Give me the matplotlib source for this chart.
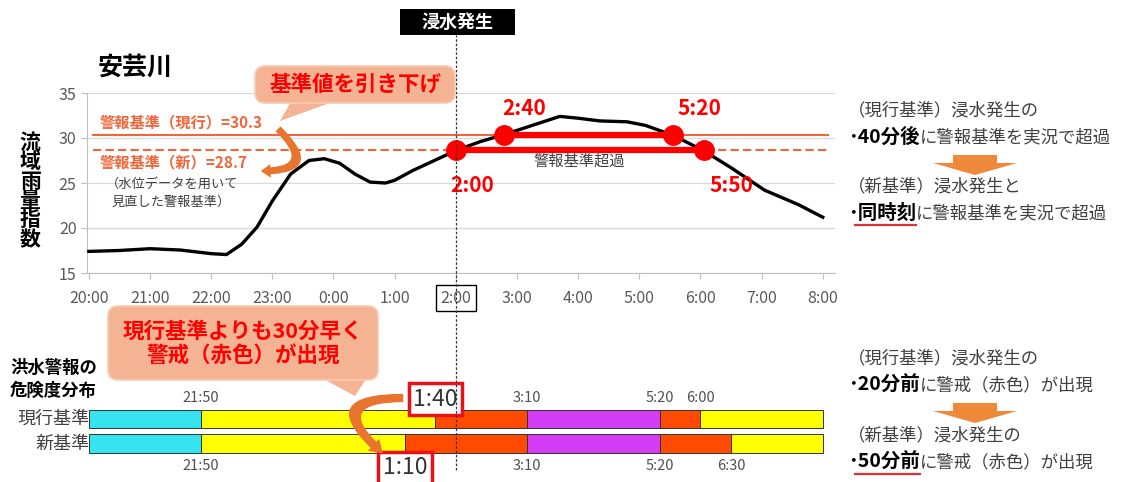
import matplotlib
import matplotlib.pyplot as plt
from matplotlib.lines import Line2D
from matplotlib.patches import FancyArrowPatch, FancyBboxPatch, Polygon, Rectangle
from matplotlib.transforms import IdentityTransform

matplotlib.use("Agg")
plt.rcParams["font.family"] = ["Noto Sans CJK JP", "DejaVu Sans"]

W, H = 1126, 482

# 流域雨量指数 (hours after 20:00)
hours = [0.0, 0.5, 1.0, 1.5, 2.0, 2.25, 2.5, 2.75, 3.0, 3.3, 3.6, 3.85, 4.1,
         4.35, 4.6, 4.85, 5.0, 5.3, 5.65, 6.0, 6.4, 6.8, 7.25, 7.7, 8.0,
         8.35, 8.8, 9.1, 9.55, 10.05, 10.5, 11.05, 11.6, 12.0]
index_vals = [17.4, 17.5, 17.7, 17.55, 17.15, 17.05, 18.2, 20.1, 23.0, 26.0,
              27.5, 27.7, 27.2, 26.0, 25.1, 25.0, 25.3, 26.4, 27.5, 28.6,
              29.6, 30.4, 31.4, 32.4, 32.2, 31.9, 31.8, 31.4, 30.3, 28.6,
              26.7, 24.2, 22.6, 21.2]
thr_current = 30.3
thr_new = 28.7
tick_labels = ["20:00", "21:00", "22:00", "23:00", "0:00", "1:00", "2:00",
               "3:00", "4:00", "5:00", "6:00", "7:00", "8:00"]
flood_hour = 6.0

cross_labels = ["2:00", "2:40", "5:20", "5:50"]
cross_hours = [6.0, 6.78, 9.55, 10.05]
cross_vals = [thr_new, thr_current, thr_current, thr_new]

# 危険度分布
rows = ["現行基準", "新基準"]
cur_bounds = ["20:00", "21:50", "1:40", "3:10", "5:20", "6:00", "8:00"]
new_bounds = ["20:00", "21:50", "1:10", "3:10", "5:20", "6:30", "8:00"]
level_colors = ["#36E4F0", "#FFFF00", "#FF4A00", "#D43DF5", "#FF4A00", "#FFFF00"]


def to_hours(s):
    h, m = s.split(":")
    return (int(h) + int(m) / 60 - 20) % 24


def fx(x):
    return x / W


def fy(y):
    return 1 - y / H


RED = "#FF0000"
ORANGE = "#F0663A"
GRAY = "#404040"

fig = plt.figure(figsize=(11.26, 4.82), dpi=100)
ax = fig.add_axes([fx(87), fy(273), 748 / W, 180 / H])
ax_bar = fig.add_axes([fx(87), fy(455.75), 748 / W, 49 / H])
ax.set_zorder(3)
ax.patch.set_alpha(0)

# ---- upper chart
ax.plot(hours, index_vals, color="black", lw=2.4, zorder=4)
ax.axhline(thr_current, xmin=0.008, xmax=0.99, color=ORANGE, lw=1.5, zorder=2)
ax.axhline(thr_new, xmin=0.008, xmax=0.99, color=ORANGE, lw=1.5,
           dashes=(4, 2), zorder=2)
ax.plot([cross_hours[1], cross_hours[2]], [thr_current] * 2, color=RED,
        lw=4.5, solid_capstyle="butt", zorder=5)
ax.plot([cross_hours[0], cross_hours[3]], [thr_new] * 2, color=RED,
        lw=4.5, solid_capstyle="butt", zorder=5)
ax.plot(cross_hours, cross_vals, "o", color=RED, ms=14, zorder=6)
offsets = [(16, -36), (21, 27), (26, 27), (28, -36)]
for lab, h, v, off in zip(cross_labels, cross_hours, cross_vals, offsets):
    ax.annotate(lab, (h, v), xytext=off, textcoords="offset pixels",
                ha="center", va="center", color=RED, fontsize=15,
                fontweight="bold", zorder=7)
ax.text((cross_hours[0] + cross_hours[3]) / 2, 27.4, "警報基準超過",
        ha="center", va="center", fontsize=11, color=GRAY)

ax.set_xlim(-0.03, 12.2)
ax.set_ylim(15, 35)
ax.set_xticks(range(len(tick_labels)))
ax.set_xticklabels(tick_labels)
ax.set_yticks([15, 20, 25, 30, 35])
ax.tick_params(labelsize=11.5, labelcolor="#595959", color="#BFBFBF", length=4)
ax.tick_params(axis="x", pad=8)
ax.grid(axis="y", color="#D9D9D9", lw=0.9)
ax.set_axisbelow(True)
for side in ["top", "right"]:
    ax.spines[side].set_visible(False)
for side in ["left", "bottom"]:
    ax.spines[side].set_color("#BFBFBF")
ax.get_xticklabels()[tick_labels.index("2:00")].set_bbox(
    dict(boxstyle="square,pad=0.3", fc="none", ec="black", lw=1))

# flood time line
ax.axvline(flood_hour, ymin=-1.094, ymax=1.32, color="#333333", lw=0.9,
           dashes=(2, 1.5), clip_on=False, zorder=8)

# ---- lower bars
ax_bar.set_xlim(-0.03, 12.2)
ax_bar.set_ylim(-0.5, 1.5)
ax_bar.axis("off")
for row_y, bounds in [(1, cur_bounds), (0, new_bounds)]:
    b = [to_hours(s) if i < len(bounds) - 1 else 12.0
         for i, s in enumerate(bounds)]
    for i, c in enumerate(level_colors):
        ax_bar.barh(row_y, b[i + 1] - b[i], left=b[i], height=0.74, color=c,
                    edgecolor="#333333", lw=0.7)
    lab_y = 1.84 if row_y == 1 else -0.92
    for i in range(1, len(bounds) - 1):
        if i == 2:
            ax_bar.text(b[i], 1.8 if row_y == 1 else -1.0, bounds[i],
                        ha="center", va="center", fontsize=16.5, color="#333333",
                        bbox=dict(boxstyle="square,pad=0.2", fc="white",
                                  ec="#E8101A", lw=2.5), clip_on=False,
                        zorder=5)
        else:
            ax_bar.text(b[i], lab_y, bounds[i], ha="center", va="center",
                        fontsize=10.5, color="#505050", clip_on=False)

for name, y in zip(rows, [419, 443.5]):
    fig.text(fx(89), fy(y), name, ha="right", va="center", fontsize=13,
             color=GRAY)
fig.text(fx(10), fy(368), "洪水警報の", ha="left", va="center", fontsize=12.5,
         fontweight="bold")
fig.text(fx(10), fy(391), "危険度分布", ha="left", va="center", fontsize=12.5,
         fontweight="bold")

# ---- titles and labels
fig.text(fx(98), fy(68), "安芸川", ha="left", va="center", fontsize=18,
         fontweight="bold")
for i, ch in enumerate("流域雨量指数"):
    fig.text(fx(30), fy(142 + i * 19.5), ch, ha="center", va="center",
             fontsize=15, fontweight="bold")

pix = IdentityTransform()

fig.add_artist(Rectangle((400, H - 35), 115, 26, fc="black", ec="none",
                         transform=pix))
fig.text(fx(457.5), fy(22), "浸水発生", ha="center", va="center", fontsize=13,
         fontweight="bold", color="white")

fig.text(fx(100), fy(122), "警報基準（現行）=30.3", ha="left", va="center",
         fontsize=11, fontweight="bold", color=ORANGE)
fig.text(fx(100), fy(162), "警報基準（新）=28.7", ha="left", va="center",
         fontsize=11, fontweight="bold", color=ORANGE)
fig.text(fx(106), fy(184), "（水位データを用いて", ha="left", va="center",
         fontsize=9.5, color=GRAY)
fig.text(fx(112), fy(202), "見直した警報基準）", ha="left", va="center",
         fontsize=9.5, color=GRAY)


def callout(x0, y0, x1, y1, tail, lines):
    fc = "#F4B393"
    box = FancyBboxPatch((x0, H - y1), x1 - x0, y1 - y0,
                         boxstyle="round,pad=0,rounding_size=10", fc=fc,
                         ec="#F8CDB5", lw=1.2, transform=pix, zorder=9)
    tri = Polygon([(x, H - y) for x, y in tail], closed=True, fc=fc,
                  ec="none", transform=pix, zorder=9)
    fig.add_artist(tri)
    fig.add_artist(box)
    fig.text(fx((x0 + x1) / 2), fy((y0 + y1) / 2), lines, ha="center",
             va="center", fontsize=15.5, fontweight="bold", color=RED,
             linespacing=1.15, zorder=10)


callout(255, 66, 455, 103, [(292, 100), (338, 100), (280, 121)],
        "基準値を引き下げ")
callout(108, 306, 378, 380, [(318, 376), (368, 376), (355, 396)],
        "現行基準よりも30分早く\n警戒（赤色）が出現")

# curved arrows
arr1 = FancyArrowPatch((276, H - 127), (258, H - 171),
                       connectionstyle="arc3,rad=-1.3",
                       arrowstyle="simple,head_width=10,head_length=7,tail_width=5",
                       fc="#E8742E", ec="none", transform=pix, zorder=9)
fig.add_artist(arr1)
arr2 = FancyArrowPatch((406, H - 398), (385, H - 455),
                       connectionstyle="arc3,rad=1.4",
                       arrowstyle="simple,head_width=12,head_length=9,tail_width=6",
                       fc="#E8742E", ec="none", transform=pix, zorder=9)
fig.add_artist(arr2)

# ---- right side notes
renderer = fig.canvas.get_renderer()


def rich(x, y, parts):
    cur = x
    for s, bold, size, ul in parts:
        t = fig.text(fx(cur), fy(y), s, ha="left", va="center", fontsize=size,
                     fontweight="bold" if bold else "normal",
                     color="black" if bold else GRAY)
        bb = t.get_window_extent(renderer=renderer)
        if ul:
            fig.add_artist(Line2D([bb.x0 + 7, bb.x1], [H - y - 12] * 2,
                                  transform=pix, color="#E03030", lw=1.6))
        cur = bb.x1


def down_arrow(cx, y0):
    pts = [(cx - 22, y0), (cx + 22, y0), (cx + 22, y0 + 8), (cx + 42, y0 + 8),
           (cx, y0 + 20), (cx - 42, y0 + 8), (cx - 22, y0 + 8)]
    fig.add_artist(Polygon([(x, H - y) for x, y in pts], closed=True,
                           fc="#F0883A", ec="none", transform=pix))


rich(848, 110, [("（現行基準）浸水発生の", False, 12.5, False)])
rich(848, 137, [("･40分後", True, 14, False),
                ("に警報基準を実況で超過", False, 12.5, False)])
down_arrow(975, 155)
rich(848, 186, [("（新基準）浸水発生と", False, 12.5, False)])
rich(848, 213, [("･同時刻", True, 14, True),
                ("に警報基準を実況で超過", False, 12.5, False)])

rich(848, 358, [("（現行基準）浸水発生の", False, 12.5, False)])
rich(848, 385, [("･20分前", True, 14, False),
                ("に警戒（赤色）が出現", False, 12.5, False)])
down_arrow(975, 403)
rich(848, 435, [("（新基準）浸水発生の", False, 12.5, False)])
rich(848, 462, [("･50分前", True, 14, True),
                ("に警戒（赤色）が出現", False, 12.5, False)])

fig.savefig("out.png", dpi=100)
